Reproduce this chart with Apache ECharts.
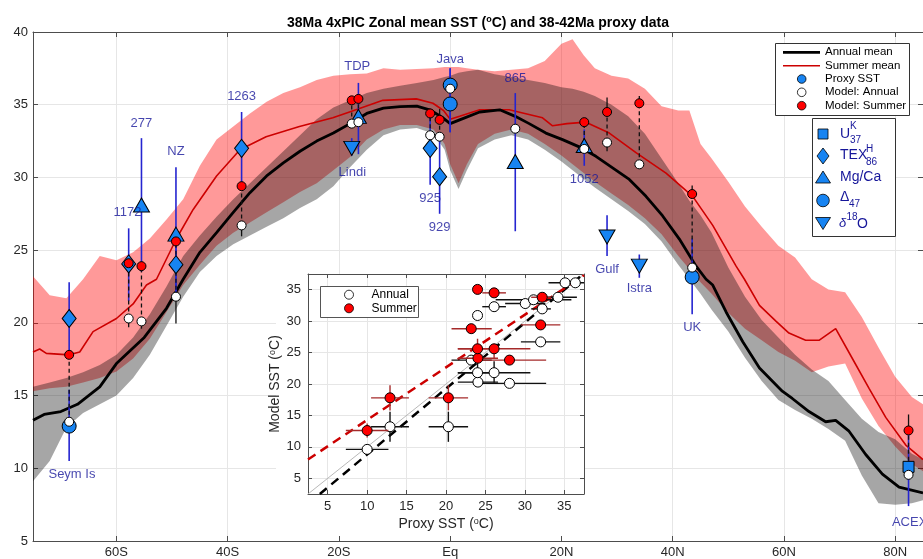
<!DOCTYPE html>
<html><head><meta charset="utf-8">
<script src="https://cdn.jsdelivr.net/npm/echarts@6/dist/echarts.min.js"></script>
<style>html,body{margin:0;padding:0;background:#fff;}#chart{width:923px;height:559px;}</style>
</head><body><div id="chart"></div>
<script>
// ---------------- data ----------------
const latTicks = [-60, -40, -20, 0, 20, 40, 60, 80];
const insetTicks = [5, 10, 15, 20, 25, 30, 35];

const annualMeanLat = [-75,-73,-70,-67,-63,-60,-55,-51,-48,-45,-42,-39,-36,-33,-30,-27,-24,-21,-18,-15,-12,-9,-6,-3.7,-1.3,0,1.7,5.3,8.9,11.7,14.2,17.2,20.2,23.2,26.2,29.2,32.2,35.2,38.2,41.2,44.2,46,47.2,49.6,52.6,55.6,59.7,61.5,64.5,67.5,69.3,71.7,74.7,77.7,80.7,85];
const annualMeanT = [13.3,13.7,13.9,14.4,15.6,17.2,19.0,21.0,23.0,24.85,26.2,27.6,28.95,30.1,31.0,31.8,32.5,33.05,33.7,34.4,34.76,34.87,34.9,34.65,34.1,33.7,33.96,34.5,34.65,34.2,33.7,33.05,32.6,32.1,31.45,30.66,29.86,28.7,27.35,25.76,23.9,23.0,22.6,20.75,18.7,16.9,15.3,14.8,13.9,13.2,13.3,12.55,10.95,9.6,8.7,8.3];

const summerMeanLat = [-75,-73.8,-72.6,-68.5,-66.6,-64.2,-60,-57,-54.6,-52.8,-49.2,-46.2,-42,-37.8,-33.1,-27.1,-21.1,-18.1,-12.1,-6.1,-3.1,-1.2,0,1.7,5.3,10.6,16.6,18.4,21,24.4,28.6,33.4,38.8,43.6,47.2,51.4,52.9,55.6,58.6,60.9,63.9,66.3,69.3,72.3,75.3,78.3,81.9,85];
const summerMeanT = [18.0,18.2,17.9,17.8,18.0,19.4,20.3,21.3,22.6,23.0,25.8,27.8,30.1,31.9,32.8,33.5,34.1,34.5,35.3,35.4,35.1,34.6,34.0,34.2,34.65,34.65,34.1,33.55,33.7,33.8,33.05,31.7,30.3,28.7,26.7,23.9,23.0,21.2,20.1,19.3,18.8,18.8,19.6,17.55,15.5,13.5,11.6,10.6];

const bandLat = [-75,-72,-69,-66,-63,-60,-57,-54,-51,-48,-45,-42,-39,-36,-33,-30,-27,-24,-21,-18,-15,-12,-9,-6,-3,-1,0,1.5,3,5,8,11,14,17,20,22,24,26,29,32,35,38,41,43,45,47,50,53,56,59,62,65,68,71,74,77,80,83,85];
const summerBandHigh = [23.2,21.9,21.7,23.0,24.6,24.3,24.85,25.8,27.1,28.5,30.8,32.6,33.5,34.4,35.2,35.8,36.2,36.7,37.0,37.1,37.15,37.5,37.4,37.45,37.5,37.6,37.6,37.6,37.5,37.4,37.3,37.4,37.5,38.0,39.2,39.5,38.4,37.5,37.0,36.8,36.1,34.9,34.6,34.6,32.3,31.3,29.7,28.0,26.6,25.3,24.5,23.0,22.3,22.1,20.4,18.3,16.3,14.9,14.4];
const summerBandLow = [15.3,15.5,15.6,15.9,16.2,16.65,17.55,18.9,20.75,22.6,24.0,25.3,26.2,26.9,27.6,28.3,29.0,29.6,30.5,31.4,32.6,33.3,33.6,33.6,33.3,32.3,30.9,29.6,30.9,32.3,33.0,33.3,33.0,32.3,31.5,30.9,30.3,29.7,28.9,28.1,27.2,26.1,24.6,23.7,22.8,22.0,20.7,19.6,18.8,18.0,17.4,16.6,17.0,17.2,14.8,12.9,11.5,10.3,9.8];
const annualBandHigh = [15.6,15.9,16.2,16.6,17.1,17.8,19.0,20.6,22.5,24.6,26.0,27.3,28.5,29.6,30.7,31.8,32.9,34.0,34.8,35.3,35.8,36.1,36.3,36.5,36.7,36.9,37.0,37.2,37.3,37.4,37.1,36.9,36.7,36.5,36.2,36.1,35.9,35.6,35.0,34.2,33.0,31.3,29.6,28.4,27.4,26.2,23.8,21.8,20.2,19.0,17.8,16.8,16.0,14.7,13.4,12.5,12.0,11.0,10.6];
const annualBandLow = [9.1,10.5,12.8,13.8,14.4,15.0,16.2,17.8,19.8,21.8,23.5,24.6,25.4,26.0,26.6,27.2,27.9,28.5,29.4,30.7,31.9,32.9,33.3,33.4,33.0,31.9,30.5,29.2,30.5,32.0,32.6,32.9,32.6,31.9,31.1,30.5,29.9,29.3,28.5,27.7,26.8,25.6,24.0,23.0,22.0,20.9,19.4,17.6,16.0,14.7,14.0,13.4,12.7,11.9,9.5,7.6,7.5,7.6,7.8];

// proxies: lat, value, error range, type
const proxyLat  = [-68.5,-68.5,-57.8,-55.5,-49.3,-49.3,-37.5,-16.5,-17.7,0,0,-3.6,-1.9,11.7,24.1,28.2,34.0,43.5,82.4];
const proxyT    = [20.3,12.9,24.05,28.1,26.1,24.0,32.0,34.2,32.0,36.35,35.05,32.0,30.05,31.1,32.2,25.9,23.9,23.15,10.1];
const proxyLo   = [17.8,10.5,21.5,23.5,22.2,21.5,29.5,31.6,31.5,33.1,33.1,29.5,27.5,26.3,30.8,24.6,23.1,20.6,7.4];
const proxyHi   = [22.8,15.4,26.5,32.7,30.7,26.5,34.5,36.5,32.7,37.5,37.5,34.5,32.6,35.8,33.3,27.4,24.7,25.8,12.6];
const proxyType = ['TEX','D47','TEX','MgCa','MgCa','TEX','TEX','MgCa','d18O','D47','D47','TEX','TEX','MgCa','MgCa','d18O','d18O','D47','UK37'];

// model values at sites
const modelLat    = [-68.5,-57.8,-55.5,-49.3,-37.5,-17.7,-16.5,0,-3.6,-1.9,11.7,24.1,28.2,34.0,43.5,82.4];
const modelAnnual = [13.2,20.3,20.1,21.8,26.7,33.7,33.8,36.1,32.9,32.8,33.35,31.96,32.4,30.9,23.8,9.55];
const modelSummer = [17.8,24.1,23.9,25.6,29.4,35.3,35.4,null,34.4,33.96,null,33.8,34.5,35.1,28.86,12.6];
const modelLo     = [null,19.7,19.6,19.95,25.95,null,null,null,null,null,null,null,31.8,null,null,null];
const modelHi     = [null,null,null,null,null,null,null,null,null,34.7,null,null,35.5,35.6,29.45,13.7];

// site labels
const siteNames   = ['Seym Is','1172','277','NZ','1263','TDP','Lindi','Java','925','929','865','1052','Gulf','Istra','UK','ACEX'];
const siteLabelLat = [-68.0,-58.0,-55.5,-49.3,-37.5,-16.7,-17.6,0,-3.6,-1.9,11.7,24.1,28.2,34.0,43.5,82.6];
const siteLabelT   = [9.55,27.6,33.7,31.8,35.55,37.6,30.35,38.1,28.55,26.55,36.8,29.86,23.66,22.35,19.66,6.3];

// inset: proxy vs model
const insetAnnP   = [10.0,12.9,20.3,23.2,24.05,24.0,24.0,26.1,26.1,28.05,30.05,31.1,32.2,32.0,34.2,35.1,36.4];
const insetAnnM   = [9.6,13.2,13.2,23.8,20.3,21.8,30.9,21.8,32.3,20.1,32.8,33.4,31.95,26.7,33.8,36.1,36.1];
const insetAnnPLo = [7.3,10.5,17.8,20.7,21.5,21.5,null,21.5,24.6,23.5,27.5,26.3,30.8,29.5,31.6,33.0,null];
const insetAnnPHi = [12.7,15.3,22.8,25.8,26.6,26.5,null,30.7,27.6,32.7,32.6,35.9,33.3,34.5,36.6,37.5,null];
const insetAnnMLo = [null,10.8,10.8,null,null,20.0,null,20.2,null,null,null,null,null,null,null,null,null];
const insetAnnMHi = [null,15.6,15.6,null,null,23.6,null,23.6,null,null,null,null,null,null,null,null,null];

const insetSumP   = [10.0,12.9,20.3,23.2,24.05,24.0,24.0,26.1,26.1,28.05,32.2,32.0];
const insetSumM   = [12.6,17.8,17.8,28.8,24.1,25.6,35.05,25.6,34.5,23.8,33.8,29.4];
const insetSumPLo = [7.3,10.5,17.8,20.7,21.5,21.5,null,21.5,24.6,23.5,30.8,29.5];
const insetSumPHi = [12.7,15.3,22.8,25.8,26.6,26.5,null,30.7,27.6,32.7,33.3,34.5];
const insetSumMLo = [11.5,15.8,15.8,null,null,23.9,null,24.0,null,null,null,null];
const insetSumMHi = [13.7,19.8,19.8,null,null,27.2,null,26.4,null,null,null,null];

const lineOneToOne = [[2.5,2.5],[37.5,37.5]];
const lineFitAnnual = [[4.0,2.5],[37.4,37.5]];
const lineFitSummer = [[2.5,8.0],[37.5,37.3]];

// ---------------- styling ----------------
const FONT = '"Liberation Sans", Arial, Helvetica, sans-serif';
const TXT = '#262626';
const AX = '#4d4d4d';
const GRID = '#e6e6e6';
const SITE = '#16169a';
const BLUE = '#1784f2';
const BLUEBAR = '#2525d0';

function fmtLat(v){ return v === 0 ? 'Eq' : (v < 0 ? (-v) + 'S' : v + 'N'); }

function segSeries(segs, color, width, dash, xi, yi, z) {
  return {
    type: 'custom', xAxisIndex: xi, yAxisIndex: yi, z: z, silent: true,
    data: segs, encode: { x: [0, 2], y: [1, 3] },
    renderItem: function (p, api) {
      const a = api.coord([api.value(0), api.value(1)]);
      const b = api.coord([api.value(2), api.value(3)]);
      return { type: 'line', shape: { x1: a[0], y1: a[1], x2: b[0], y2: b[1] },
               style: { stroke: color, lineWidth: width, lineDash: dash || null } };
    }
  };
}
function bandSeries(low, high, color, z) {
  return {
    type: 'custom', xAxisIndex: 0, yAxisIndex: 0, z: z, silent: true,
    data: [[bandLat[0], low[0]]], encode: { x: 0, y: 1 },
    renderItem: function (p, api) {
      const pts = [];
      for (let i = 0; i < bandLat.length; i++) pts.push(api.coord([bandLat[i], high[i]]));
      for (let i = bandLat.length - 1; i >= 0; i--) pts.push(api.coord([bandLat[i], low[i]]));
      return { type: 'polygon', shape: { points: pts }, style: { fill: color } };
    }
  };
}
function zip(a, b) { return a.map((v, i) => [v, b[i]]); }

const proxyBars = proxyLat.map((l, i) => [l, proxyLo[i], l, proxyHi[i]]);
const modelDash = [], modelSolid = [];
modelLat.forEach((l, i) => {
  if (modelSummer[i] != null) modelDash.push([l, modelAnnual[i], l, modelSummer[i]]);
  if (modelLo[i] != null) modelSolid.push([l, modelLo[i], l, modelAnnual[i]]);
  if (modelHi[i] != null) modelSolid.push([l, modelSummer[i] != null ? modelSummer[i] : modelAnnual[i], l, modelHi[i]]);
});
function insetBars(P, M, PLo, PHi, MLo, MHi) {
  const s = [];
  P.forEach((p, i) => {
    if (PLo[i] != null) s.push([PLo[i], M[i], PHi[i], M[i]]);
    if (MLo[i] != null) s.push([p, MLo[i], p, MHi[i]]);
  });
  return s;
}
const annBars = insetBars(insetAnnP, insetAnnM, insetAnnPLo, insetAnnPHi, insetAnnMLo, insetAnnMHi);
const sumBars = insetBars(insetSumP, insetSumM, insetSumPLo, insetSumPHi, insetSumMLo, insetSumMHi);

function proxyData(t) {
  const d = [];
  proxyLat.forEach((l, i) => { if (proxyType[i] === t) d.push([l, proxyT[i]]); });
  return d;
}
function proxyScatter(t, symbol, size, rotate) {
  return { type: 'scatter', xAxisIndex: 0, yAxisIndex: 0, z: 5, silent: true,
    symbol: symbol, symbolSize: size, symbolRotate: rotate || 0, data: proxyData(t),
    itemStyle: { color: BLUE, borderColor: '#000', borderWidth: 1, opacity: 1 } };
}

const modelAnnPts = modelLat.map((l, i) => [l, modelAnnual[i]]);
const modelSumPts = [];
modelLat.forEach((l, i) => { if (modelSummer[i] != null) modelSumPts.push([l, modelSummer[i]]); });

const labelData = siteNames.map((n, i) => ({ name: n, value: [siteLabelLat[i], siteLabelT[i]] }));

function axisCommon(extra) {
  return Object.assign({
    type: 'value',
    axisLine: { show: true, onZero: false, lineStyle: { color: AX, width: 1 } },
    axisTick: { show: true, inside: true, length: 5, lineStyle: { color: AX } },
    axisLabel: { color: TXT, fontSize: 13, fontFamily: FONT },
    splitLine: { show: false }
  }, extra);
}

const supRich = { s: { fontSize: 9, fontFamily: FONT, color: TXT, verticalAlign: 'top', padding: [0, 0, 6, 0] } };

const option = {
  animation: false,
  backgroundColor: '#fff',
  grid: [
    { left: 33, top: 32, right: 0, bottom: 15 },
    { left: 308, top: 274, width: 276, height: 220 }
  ],
  xAxis: [
    axisCommon({ gridIndex: 0, min: -75, max: 85, position: 'bottom', z: 0,
      axisTick: { show: true, inside: true, length: 5, customValues: latTicks, lineStyle: { color: AX } },
      axisLabel: { customValues: latTicks, formatter: fmtLat, color: TXT, fontSize: 13, fontFamily: FONT, margin: 5 },
      splitLine: { show: true, lineStyle: { color: GRID } } }),
    axisCommon({ gridIndex: 0, min: -75, max: 85, position: 'top', z: 0,
      axisTick: { show: true, inside: true, length: 5, customValues: latTicks, lineStyle: { color: AX } },
      axisLabel: { show: false } }),
    axisCommon({ gridIndex: 1, min: 2.5, max: 37.5, position: 'bottom', z: 8,
      axisTick: { show: true, inside: true, length: 4, customValues: insetTicks, lineStyle: { color: AX } },
      axisLabel: { customValues: insetTicks, color: TXT, fontSize: 13, fontFamily: FONT, margin: 6 },
      splitLine: { show: true, lineStyle: { color: GRID } },
      name: 'Proxy SST ({s|o}C)', nameLocation: 'middle', nameGap: 23,
      nameTextStyle: { fontSize: 14, color: TXT, fontFamily: FONT, rich: supRich } }),
    axisCommon({ gridIndex: 1, min: 2.5, max: 37.5, position: 'top', z: 8,
      axisTick: { show: true, inside: true, length: 4, customValues: insetTicks, lineStyle: { color: AX } },
      axisLabel: { show: false } })
  ],
  yAxis: [
    axisCommon({ gridIndex: 0, min: 5, max: 40, interval: 5, position: 'left', z: 0,
      axisLabel: { color: TXT, fontSize: 13, fontFamily: FONT, margin: 5 },
      splitLine: { show: true, lineStyle: { color: GRID } } }),
    axisCommon({ gridIndex: 0, min: 5, max: 40, interval: 5, position: 'right', z: 0,
      axisLabel: { show: false } }),
    axisCommon({ gridIndex: 1, min: 2.5, max: 37.5, position: 'left', z: 8,
      axisTick: { show: true, inside: true, length: 4, customValues: insetTicks, lineStyle: { color: AX } },
      axisLabel: { customValues: insetTicks, color: TXT, fontSize: 13, fontFamily: FONT, margin: 7 },
      splitLine: { show: true, lineStyle: { color: GRID } },
      name: 'Model SST ({s|o}C)', nameLocation: 'middle', nameGap: 19, nameRotate: 90,
      nameTextStyle: { fontSize: 14, color: TXT, fontFamily: FONT, rich: supRich } }),
    axisCommon({ gridIndex: 1, min: 2.5, max: 37.5, position: 'right', z: 8,
      axisTick: { show: true, inside: true, length: 4, customValues: insetTicks, lineStyle: { color: AX } },
      axisLabel: { show: false } })
  ],
  series: [
    bandSeries(summerBandLow, summerBandHigh, 'rgba(255,0,0,0.4)', 1),
    bandSeries(annualBandLow, annualBandHigh, 'rgba(0,0,0,0.35)', 1),
    { type: 'line', xAxisIndex: 0, yAxisIndex: 0, z: 3, silent: true, showSymbol: false, symbol: 'none',
      data: zip(summerMeanLat, summerMeanT), lineStyle: { color: '#cc0000', width: 1.6 } },
    { type: 'line', xAxisIndex: 0, yAxisIndex: 0, z: 3, silent: true, showSymbol: false, symbol: 'none',
      data: zip(annualMeanLat, annualMeanT), lineStyle: { color: '#000', width: 2.8 } },
    segSeries(proxyBars, BLUEBAR, 1.6, null, 0, 0, 4),
    segSeries(modelDash, '#111', 1.3, [4, 3], 0, 0, 4),
    segSeries(modelSolid, '#111', 1.3, null, 0, 0, 4),
    proxyScatter('TEX', 'diamond', [14, 18]),
    proxyScatter('MgCa', 'triangle', [16, 14]),
    proxyScatter('d18O', 'triangle', [16, 14], 180),
    proxyScatter('D47', 'circle', 14),
    proxyScatter('UK37', 'rect', 11),
    { type: 'scatter', xAxisIndex: 0, yAxisIndex: 0, z: 6, silent: true, symbolSize: 9, data: modelAnnPts,
      itemStyle: { color: '#fff', borderColor: '#000', borderWidth: 1, opacity: 1 } },
    { type: 'scatter', xAxisIndex: 0, yAxisIndex: 0, z: 6, silent: true, symbolSize: 9, data: modelSumPts,
      itemStyle: { color: '#ff0000', borderColor: '#000', borderWidth: 1, opacity: 1 } },
    { type: 'scatter', xAxisIndex: 0, yAxisIndex: 0, z: 6, silent: true, symbolSize: 1, data: labelData,
      itemStyle: { color: 'rgba(0,0,0,0)' },
      label: { show: true, position: 'inside', formatter: '{b}', color: SITE, fontSize: 13, fontFamily: FONT } },
    { type: 'line', xAxisIndex: 2, yAxisIndex: 2, z: 9, silent: true, symbol: 'none', data: lineOneToOne,
      lineStyle: { color: '#b8b8b8', width: 1 } },
    { type: 'line', xAxisIndex: 2, yAxisIndex: 2, z: 9, silent: true, symbol: 'none', data: lineFitAnnual,
      lineStyle: { color: '#000', width: 2.5, type: [9, 6] } },
    { type: 'line', xAxisIndex: 2, yAxisIndex: 2, z: 9, silent: true, symbol: 'none', data: lineFitSummer,
      lineStyle: { color: '#cc0000', width: 2.5, type: [9, 6] } },
    segSeries(annBars, '#111', 1.4, null, 2, 2, 10),
    { type: 'scatter', xAxisIndex: 2, yAxisIndex: 2, z: 10, silent: true, symbolSize: 10, data: zip(insetAnnP, insetAnnM),
      itemStyle: { color: '#fff', borderColor: '#000', borderWidth: 1, opacity: 1 } },
    segSeries(sumBars, '#a52a2a', 1.4, null, 2, 2, 11),
    { type: 'scatter', xAxisIndex: 2, yAxisIndex: 2, z: 11, silent: true, symbolSize: 10, data: zip(insetSumP, insetSumM),
      itemStyle: { color: '#ff0000', borderColor: '#000', borderWidth: 1, opacity: 1 } }
  ],
  graphic: { elements: [
    { type: 'rect', z: 7, silent: true, shape: { x: 276, y: 274, width: 309, height: 262 }, style: { fill: '#fff' } },
    { type: 'text', z: 12, x: 478, y: 23, style: {
        text: '38Ma 4xPIC Zonal mean SST ({s|o}C) and 38-42Ma proxy data',
        font: 'bold 14px ' + FONT, fill: '#000', align: 'center', verticalAlign: 'middle',
        rich: { s: { font: 'bold 9px ' + FONT, fill: '#000', verticalAlign: 'top', padding: [0, 0, 6, 0] } } } },
    { type: 'rect', z: 12, shape: { x: 775.5, y: 43.5, width: 134, height: 72 }, style: { fill: '#fff', stroke: '#333', lineWidth: 1 } },
    { type: 'line', z: 13, shape: { x1: 783, y1: 52.3, x2: 820, y2: 52.3 }, style: { stroke: '#000', lineWidth: 2.8 } },
    { type: 'line', z: 13, shape: { x1: 783, y1: 65.7, x2: 820, y2: 65.7 }, style: { stroke: '#cc0000', lineWidth: 1.6 } },
    { type: 'circle', z: 13, shape: { cx: 801.7, cy: 79, r: 4.3 }, style: { fill: BLUE, stroke: '#000', lineWidth: 0.8 } },
    { type: 'circle', z: 13, shape: { cx: 801.7, cy: 92.3, r: 4.3 }, style: { fill: '#fff', stroke: '#000', lineWidth: 0.8 } },
    { type: 'circle', z: 13, shape: { cx: 801.7, cy: 105.7, r: 4.3 }, style: { fill: '#ff0000', stroke: '#000', lineWidth: 0.8 } },
    { type: 'text', z: 13, x: 825, y: 52.3, style: { text: 'Annual mean', font: '11.5px ' + FONT, fill: '#000', verticalAlign: 'middle' } },
    { type: 'text', z: 13, x: 825, y: 65.7, style: { text: 'Summer mean', font: '11.5px ' + FONT, fill: '#000', verticalAlign: 'middle' } },
    { type: 'text', z: 13, x: 825, y: 79, style: { text: 'Proxy SST', font: '11.5px ' + FONT, fill: '#000', verticalAlign: 'middle' } },
    { type: 'text', z: 13, x: 825, y: 92.3, style: { text: 'Model: Annual', font: '11.5px ' + FONT, fill: '#000', verticalAlign: 'middle' } },
    { type: 'text', z: 13, x: 825, y: 105.7, style: { text: 'Model: Summer', font: '11.5px ' + FONT, fill: '#000', verticalAlign: 'middle' } },
    { type: 'rect', z: 12, shape: { x: 812.5, y: 118.5, width: 83, height: 118 }, style: { fill: '#fff', stroke: '#333', lineWidth: 1 } },
    { type: 'rect', z: 13, shape: { x: 818, y: 129, width: 10, height: 10 }, style: { fill: BLUE, stroke: '#000', lineWidth: 0.8 } },
    { type: 'polygon', z: 13, shape: { points: [[823, 148], [829, 156], [823, 164], [817, 156]] }, style: { fill: BLUE, stroke: '#000', lineWidth: 0.8 } },
    { type: 'polygon', z: 13, shape: { points: [[823, 171], [830.5, 183], [815.5, 183]] }, style: { fill: BLUE, stroke: '#000', lineWidth: 0.8 } },
    { type: 'circle', z: 13, shape: { cx: 823, cy: 200.5, r: 6.3 }, style: { fill: BLUE, stroke: '#000', lineWidth: 0.8 } },
    { type: 'polygon', z: 13, shape: { points: [[815.5, 217.5], [830.5, 217.5], [823, 229.5]] }, style: { fill: BLUE, stroke: '#000', lineWidth: 0.8 } },
    { type: 'text', z: 13, x: 840, y: 134, style: { text: 'U', font: '14px ' + FONT, fill: SITE, verticalAlign: 'middle' } },
    { type: 'text', z: 13, x: 850, y: 126.5, style: { text: 'K', font: '10px ' + FONT, fill: SITE, verticalAlign: 'middle' } },
    { type: 'text', z: 13, x: 850, y: 140, style: { text: '37', font: '10px ' + FONT, fill: SITE, verticalAlign: 'middle' } },
    { type: 'text', z: 13, x: 840, y: 155.5, style: { text: 'TEX', font: '14px ' + FONT, fill: SITE, verticalAlign: 'middle' } },
    { type: 'text', z: 13, x: 866, y: 149, style: { text: 'H', font: '10px ' + FONT, fill: SITE, verticalAlign: 'middle' } },
    { type: 'text', z: 13, x: 866, y: 162.5, style: { text: '86', font: '10px ' + FONT, fill: SITE, verticalAlign: 'middle' } },
    { type: 'text', z: 13, x: 840, y: 177.5, style: { text: 'Mg/Ca', font: '14px ' + FONT, fill: SITE, verticalAlign: 'middle' } },
    { type: 'text', z: 13, x: 840, y: 197, style: { text: '\u0394', font: '14px ' + FONT, fill: SITE, verticalAlign: 'middle' } },
    { type: 'text', z: 13, x: 849, y: 204.5, style: { text: '47', font: '10px ' + FONT, fill: SITE, verticalAlign: 'middle' } },
    { type: 'text', z: 13, x: 839, y: 223.5, style: { text: '\u03b4', font: 'italic 13px ' + FONT, fill: SITE, verticalAlign: 'middle' } },
    { type: 'text', z: 13, x: 846.5, y: 217, style: { text: '18', font: '10px ' + FONT, fill: SITE, verticalAlign: 'middle' } },
    { type: 'text', z: 13, x: 857, y: 224, style: { text: 'O', font: '14px ' + FONT, fill: SITE, verticalAlign: 'middle' } },
    { type: 'rect', z: 12, shape: { x: 320.5, y: 286.5, width: 98, height: 31 }, style: { fill: '#fff', stroke: '#555', lineWidth: 1 } },
    { type: 'circle', z: 13, shape: { cx: 349, cy: 294.7, r: 4.5 }, style: { fill: '#fff', stroke: '#000', lineWidth: 0.8 } },
    { type: 'circle', z: 13, shape: { cx: 349, cy: 308.3, r: 4.5 }, style: { fill: '#ff0000', stroke: '#000', lineWidth: 0.8 } },
    { type: 'text', z: 13, x: 371.5, y: 294.7, style: { text: 'Annual', font: '12px ' + FONT, fill: '#000', verticalAlign: 'middle' } },
    { type: 'text', z: 13, x: 371.5, y: 308.3, style: { text: 'Summer', font: '12px ' + FONT, fill: '#000', verticalAlign: 'middle' } }
  ] }
};

const chart = echarts.init(document.getElementById('chart'), null, { renderer: 'canvas' });
chart.setOption(option);
</script>
</body></html>
